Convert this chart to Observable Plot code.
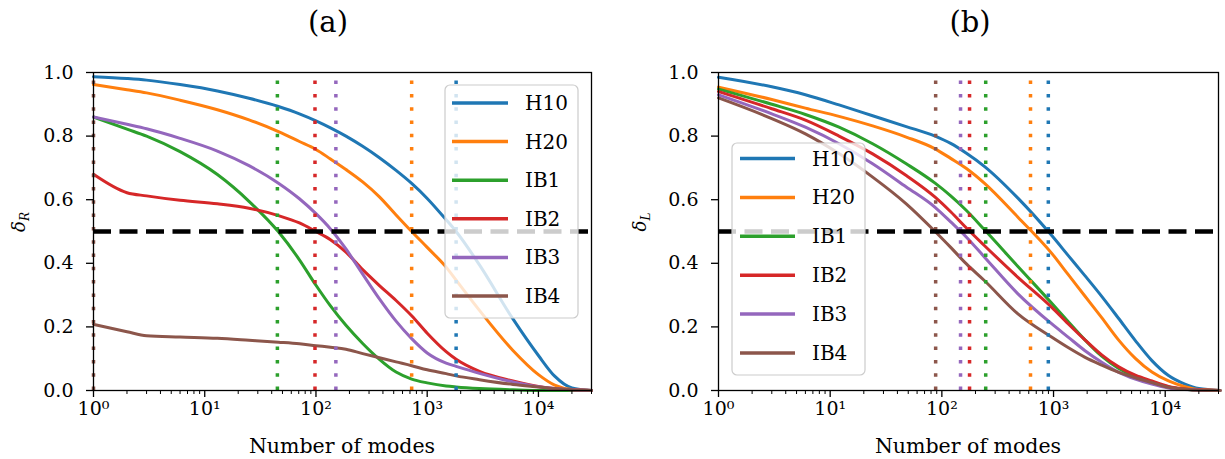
<!DOCTYPE html>
<html><head><meta charset="utf-8">
<script src="https://cdn.jsdelivr.net/npm/d3@7"></script>
<script src="https://cdn.jsdelivr.net/npm/@observablehq/plot@0.6"></script>
<style>
body{margin:0;background:#fff;font-family:"DejaVu Serif",serif;}
#root{position:relative;width:1225px;height:459px;overflow:hidden;background:#fff}
.panel{position:absolute;top:45px}
.title{position:absolute;top:0;height:45px;font-size:29px;line-height:45px;text-align:center;color:#000;font-family:"DejaVu Serif",serif}
</style></head><body><div id="root"></div>
<script>
// ---------- data ----------
const series = ["H10","H20","IB1","IB2","IB3","IB4"];
const colors = ["#1f77b4","#ff7f0e","#2ca02c","#d62728","#9467bd","#8c564b"];

// panel (a): delta_R vs number of modes
const modesA = [1,2,3,6,13,25,46,71,100,135,186,263,372,525,725,1000,1480,1820,2950,5900,10000,14000,20000,30000];
const H10a = [0.987,0.981,0.976,0.962,0.942,0.919,0.893,0.870,0.848,0.826,0.800,0.768,0.732,0.692,0.651,0.604,0.537,0.50,0.395,0.225,0.11,0.045,0.008,0];
const H20a = [0.962,0.946,0.936,0.913,0.883,0.851,0.814,0.783,0.758,0.728,0.695,0.656,0.609,0.552,0.50,0.45,0.388,0.347,0.252,0.126,0.05,0.017,0.003,0];
const IB1a = [0.86,0.822,0.80,0.751,0.679,0.595,0.499,0.411,0.331,0.266,0.205,0.148,0.098,0.058,0.036,0.024,0.014,0.011,0.006,0.002,0,0,0,0];
const IB2a = [0.68,0.622,0.612,0.598,0.587,0.573,0.55,0.527,0.50,0.474,0.435,0.38,0.33,0.283,0.235,0.18,0.122,0.098,0.06,0.03,0.013,0.006,0.002,0];
const IB3a = [0.86,0.837,0.823,0.793,0.753,0.707,0.652,0.603,0.556,0.508,0.445,0.366,0.288,0.218,0.163,0.118,0.086,0.076,0.054,0.027,0.012,0.006,0.002,0];
const IB4a = [0.208,0.185,0.172,0.168,0.164,0.158,0.152,0.147,0.141,0.136,0.13,0.116,0.103,0.09,0.078,0.065,0.053,0.046,0.034,0.019,0.011,0.006,0.002,0];
const crossA = [1820, 725, 45, 98, 151, 1];

// panel (b): delta_L vs number of modes
const modesB = [1,3,6,12,24,48,87,120,166,240,480,960,1350,1900,2700,3800,5400,7600,10700,15000,20000,31000];
const H10b = [0.985,0.955,0.93,0.898,0.864,0.83,0.80,0.777,0.746,0.705,0.605,0.488,0.425,0.362,0.296,0.228,0.157,0.094,0.047,0.02,0.006,0];
const H20b = [0.954,0.915,0.888,0.862,0.832,0.797,0.76,0.73,0.698,0.652,0.545,0.432,0.365,0.298,0.229,0.16,0.101,0.058,0.03,0.012,0.003,0];
const IB1b = [0.948,0.90,0.868,0.828,0.776,0.713,0.652,0.612,0.566,0.506,0.39,0.275,0.217,0.16,0.108,0.07,0.043,0.025,0.011,0.004,0.001,0];
const IB2b = [0.94,0.886,0.85,0.80,0.744,0.676,0.608,0.562,0.511,0.456,0.356,0.262,0.21,0.16,0.112,0.075,0.048,0.03,0.013,0.005,0.002,0];
const IB3b = [0.93,0.87,0.828,0.776,0.713,0.64,0.576,0.53,0.482,0.42,0.304,0.21,0.168,0.126,0.089,0.058,0.036,0.02,0.008,0.003,0.001,0];
const IB4b = [0.92,0.855,0.807,0.745,0.671,0.587,0.50,0.45,0.398,0.346,0.241,0.168,0.135,0.105,0.08,0.058,0.04,0.025,0.01,0.004,0.001,0];
const crossB = [898, 622, 247, 177, 147, 88];

const threshold = 0.5;
const xMajor = [1,10,100,1000,10000];
const xMajorLabels = ["10\u2070","10\u00B9","10\u00B2","10\u00B3","10\u2074"];
const xMinor = [2,3,4,5,6,7,8,9,20,30,40,50,60,70,80,90,200,300,400,500,600,700,800,900,2000,3000,4000,5000,6000,7000,8000,9000,20000,30000];
const yTicks = [0,0.2,0.4,0.6,0.8,1.0];
const yTickLabels = ["0.0","0.2","0.4","0.6","0.8","1.0"];
const titles = ["(a)","(b)"];
const xLabel = "Number of modes";
const yLabelSubs = ["R","L"];

// ---------- drawing ----------
const FONT = "DejaVu Serif";
const xLabelMap = new Map(xMajor.map((d,i)=>[d,xMajorLabels[i]]));
const yLabelMap = new Map(yTicks.map((d,i)=>[d,yTickLabels[i]]));

function makePanel(cfg){
  const rows = [];
  series.forEach((s,i)=>cfg.modes.forEach((m,j)=>rows.push({s, m, v: cfg.values[i][j]})));
  const vrows = series.map((s,i)=>({s, m: cfg.cross[i]}));
  const svg = Plot.plot({
    width: cfg.width, height: 414,
    marginLeft: cfg.ml, marginRight: cfg.mr, marginTop: 27, marginBottom: 69,
    x: {type: "log", domain: [1, 30000]},
    y: {domain: [0, 1]},
    color: {domain: series, range: colors},
    style: {fontFamily: FONT, fontSize: "19px", color: "black", background: "white", overflow: "visible"},
    marks: [
      Plot.line(rows, {x: "m", y: "v", z: "s", stroke: "s", strokeWidth: 3, curve: "monotone-x"}),
      Plot.ruleX(vrows, {x: "m", y1: 0, y2: 1, stroke: "s", strokeWidth: 3.5, strokeDasharray: "3.5,9.8"}),
      Plot.ruleY([threshold], {stroke: "black", strokeWidth: 4.5, strokeDasharray: "18,8.5"}),
      Plot.frame({stroke: "black", strokeWidth: 1.3}),
      Plot.axisX({ticks: xMajor, tickFormat: d => xLabelMap.get(d), tickSize: 7, tickPadding: 4, label: null, strokeWidth: 1.3}),
      Plot.axisX({ticks: xMinor, tickFormat: () => "", tickSize: 4, label: null, strokeWidth: 1}),
      Plot.axisY({ticks: yTicks, tickFormat: d => yLabelMap.get(d), tickSize: 7, tickPadding: 13, label: null, strokeWidth: 1.3})
    ]
  });
  const s = d3.select(svg);
  // x label
  s.append("text").attr("x", (cfg.ml + cfg.width - cfg.mr)/2).attr("y", 408)
    .attr("text-anchor","middle").attr("font-size", 20.5).attr("font-family", FONT)
    .attr("fill","black").text(xLabel);
  // y label
  const yl = s.append("text").attr("transform", `translate(${cfg.ylx},177) rotate(-90)`)
    .attr("text-anchor","middle").attr("font-size", 18).attr("font-family", FONT)
    .attr("font-style","italic").attr("fill","black");
  yl.append("tspan").text("\u03B4");
  yl.append("tspan").attr("font-size", 12).attr("dy", 4).text(cfg.sub);
  // legend
  const L = cfg.legend;
  const g = s.append("g").attr("text-anchor","start");
  g.append("rect").attr("x", L.x).attr("y", L.y).attr("width", L.w).attr("height", L.h)
    .attr("rx", 5).attr("fill","white").attr("fill-opacity", 0.8)
    .attr("stroke","#cccccc").attr("stroke-width", 1.2);
  series.forEach((name,i)=>{
    const yy = L.y0 + i*L.dy;
    g.append("line").attr("x1", L.lx1).attr("x2", L.lx2).attr("y1", yy).attr("y2", yy)
      .attr("stroke", colors[i]).attr("stroke-width", 3.5);
    g.append("text").attr("x", L.tx).attr("y", yy).attr("dy","0.35em")
      .attr("text-anchor","start")
      .attr("font-size", 20).attr("font-family", FONT).attr("fill","black").text(name);
  });
  return svg;
}

const root = document.getElementById("root");
const panels = [
  {left: 0, width: 612, ml: 93, mr: 21, modes: modesA, values: [H10a,H20a,IB1a,IB2a,IB3a,IB4a], cross: crossA,
   sub: yLabelSubs[0], ylx: 25, titleX: 328,
   legend: {x: 445, y: 40, w: 133, h: 233, y0: 58, dy: 38.6, lx1: 452, lx2: 508, tx: 525}},
  {left: 612, width: 613, ml: 106, mr: 7, modes: modesB, values: [H10b,H20b,IB1b,IB2b,IB3b,IB4b], cross: crossB,
   sub: yLabelSubs[1], ylx: 34, titleX: 970,
   legend: {x: 120, y: 98, w: 133, h: 232, y0: 113.5, dy: 38.9, lx1: 128, lx2: 183, tx: 200}}
];
panels.forEach((p,i)=>{
  const t = document.createElement("div");
  t.className = "title";
  t.style.left = (p.titleX - 100) + "px";
  t.style.width = "200px";
  t.textContent = titles[i];
  root.appendChild(t);
  const d = document.createElement("div");
  d.className = "panel";
  d.style.left = p.left + "px";
  d.appendChild(makePanel(p));
  root.appendChild(d);
});
</script>
</body></html>
